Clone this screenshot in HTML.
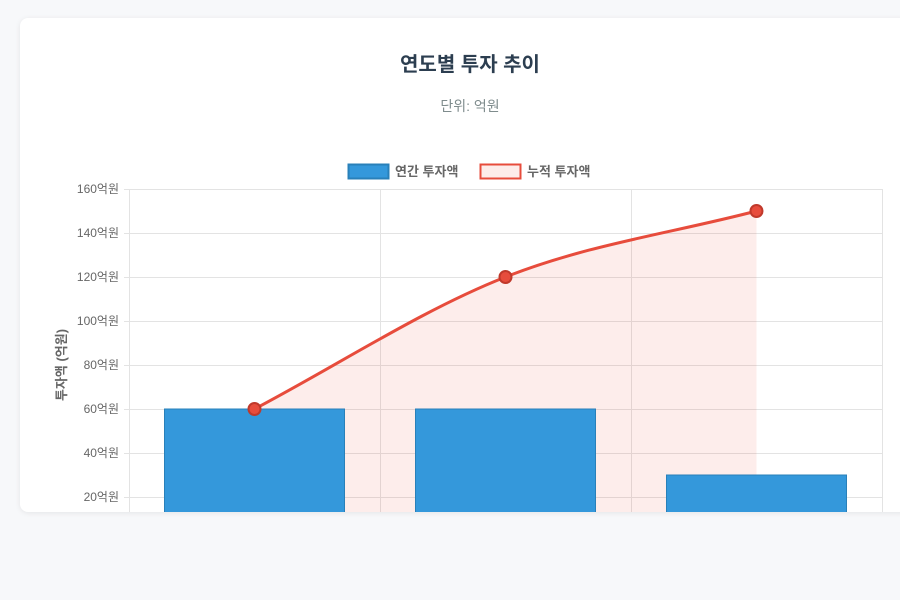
<!DOCTYPE html>
<html><head><meta charset="utf-8"><style>
body{margin:0;width:900px;height:600px;background:#f7f8fa;overflow:hidden;font-family:"Liberation Sans","Noto Sans CJK KR",sans-serif}
#card{position:absolute;left:20px;top:18px;width:900px;height:494px;background:#fff;border-radius:8px;box-shadow:0 1px 6px rgba(0,0,0,.08);overflow:hidden}
svg{position:absolute;left:0;top:0}
</style></head><body>
<div id="card"></div>
<svg id="chart" width="900" height="512"></svg>
<script>
const categories=["2022","2023","2024"];
const annualValues=[60,60,30];
const cumulativeValues=[60,120,150];
const yTicks=[0,20,40,60,80,100,120,140,160];
const NS="http://www.w3.org/2000/svg";
const svg=document.getElementById('chart');
const L=129,R=882,T=189,B=541,yMax=160;
const bw=(R-L)/categories.length;
const x=i=>L+bw*(i+0.5);
const y=v=>B-(v/yMax)*(B-T);
function mk(t,a,txt){const e=document.createElementNS(NS,t);for(const k in a)e.setAttribute(k,a[k]);if(txt!==undefined)e.textContent=txt;svg.appendChild(e);return e;}
let e;
e=mk('text',{x:470,y:71,'text-anchor':'middle','font-size':20,'font-weight':'bold',fill:'#2c3e50'},'연도별 투자 추이');

e=mk('text',{x:470,y:111,'text-anchor':'middle','font-size':14,fill:'#7f8c8d'},'단위: 억원');

e=mk('rect',{x:348.5,y:164.5,width:40,height:14,fill:'#3498db',stroke:'#2980b9','stroke-width':2});

e=mk('text',{x:395,y:176,'font-size':13,'font-weight':'bold',fill:'#666'},'연간 투자액');

e=mk('rect',{x:480.5,y:164.5,width:40,height:14,fill:'#fdecea',stroke:'#e74c3c','stroke-width':2});

e=mk('text',{x:527,y:176,'font-size':13,'font-weight':'bold',fill:'#666'},'누적 투자액');

yTicks.forEach(v=>{
 e=mk('line',{x1:124,x2:R,y1:y(v)+.5,y2:y(v)+.5,stroke:'#e3e3e3'});
 
 e=mk('text',{x:119,y:y(v)+4,'text-anchor':'end','font-size':12,fill:'#666'},v+'억원');
 
});
for(let i=0;i<=categories.length;i++){
 e=mk('line',{x1:L+bw*i+.5,x2:L+bw*i+.5,y1:T,y2:B,stroke:'#e3e3e3'});
 
}
e=mk('text',{x:0,y:0,transform:'translate(66,365) rotate(-90)','text-anchor':'middle','font-size':13,'font-weight':'bold',fill:'#666'},'투자액 (억원)');

const pts=cumulativeValues.map((v,i)=>[x(i),y(v)]);
function curve(){
 let d='M'+pts[0][0]+','+pts[0][1];
 const n=pts.length,m=[];
 for(let i=0;i<n;i++){
  const p=pts[Math.max(0,i-1)],q=pts[Math.min(n-1,i+1)];
  m.push((q[1]-p[1])/(q[0]-p[0]));
 }
 for(let i=0;i<n-1;i++){
  const dx=(pts[i+1][0]-pts[i][0])/3;
  d+=` C${pts[i][0]+dx},${pts[i][1]+m[i]*dx} ${pts[i+1][0]-dx},${pts[i+1][1]-m[i+1]*dx} ${pts[i+1][0]},${pts[i+1][1]}`;
 }
 return d;
}
const cd=curve();
e=mk('path',{d:cd+` L${pts[pts.length-1][0]},${B} L${pts[0][0]},${B} Z`,fill:'rgba(231,76,60,0.1)'});

annualValues.forEach((v,i)=>{
 e=mk('rect',{x:x(i)-90,y:y(v),width:180,height:B-y(v),fill:'#3498db',stroke:'#2980b9','stroke-width':1});
 
});
e=mk('path',{d:cd,fill:'none',stroke:'#e74c3c','stroke-width':3});

pts.forEach((p,i)=>{
 e=mk('circle',{cx:p[0],cy:p[1],r:6,fill:'#e74c3c',stroke:'#c0392b','stroke-width':2});
 
});
</script>
</body></html>
